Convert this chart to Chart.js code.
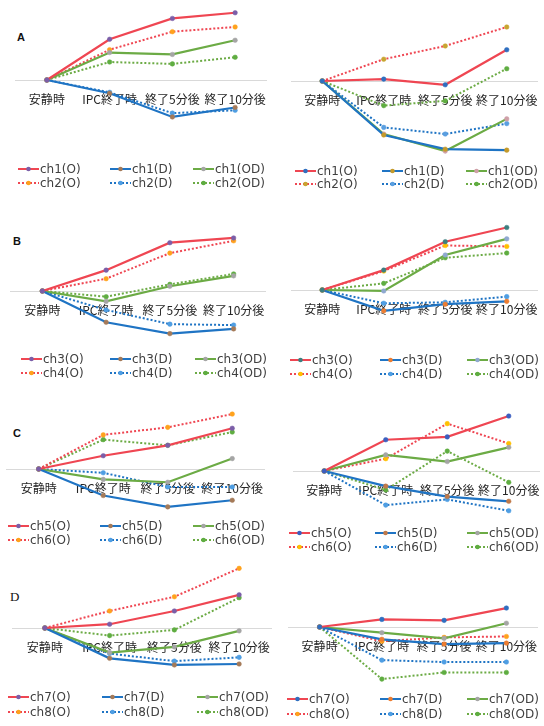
<!DOCTYPE html>
<html><head><meta charset="utf-8">
<script src="https://cdn.jsdelivr.net/npm/chart.js@4/dist/chart.umd.min.js"></script>
<style>
html,body{margin:0;padding:0;background:#fff;}
body{width:544px;height:726px;position:relative;overflow:hidden;}
canvas{position:absolute;}
.lg{position:absolute;height:14px;font:12px 'DejaVu Sans',sans-serif;color:#404040;white-space:nowrap;}
.lg svg{position:absolute;left:0;top:4px;}
.lg span{position:absolute;left:22px;top:0;line-height:14px;}
.ttl{position:absolute;font:bold 11px 'Liberation Sans',Arial,sans-serif;color:#111;line-height:12px;}
</style></head><body>
<script>
// ---- data ----
const categories = ['安静時', 'IPC終了時', '終了5分後', '終了10分後'];

// A (left)
const aL_ch1_O  = [0, 43, 65, 71];
const aL_ch1_D  = [0, -14, -39, -29];
const aL_ch1_OD = [0, 29, 27, 42];
const aL_ch2_O  = [0, 32, 51, 56];
const aL_ch2_D  = [0, -13, -35, -32];
const aL_ch2_OD = [0, 19, 17, 24];
// A (right)
const aR_ch1_O  = [0, 2, -4, 33];
const aR_ch1_D  = [0, -57, -72, -73];
const aR_ch1_OD = [0, -56, -74, -40];
const aR_ch2_O  = [0, 23, 37, 57];
const aR_ch2_D  = [0, -49, -56, -45];
const aR_ch2_OD = [0, -26, -21, 13];
// B (left)
const bL_ch3_O  = [0, 22, 51, 56];
const bL_ch3_D  = [0, -33, -45, -40];
const bL_ch3_OD = [0, -11, 5, 16];
const bL_ch4_O  = [0, 13, 40, 53];
const bL_ch4_D  = [0, -20, -35, -36];
const bL_ch4_OD = [0, -6, 7, 18];
// B (right)
const bR_ch3_O  = [0, 21, 51, 66];
const bR_ch3_D  = [0, -22, -15, -12];
const bR_ch3_OD = [0, -1, 37, 54];
const bR_ch4_O  = [0, 20, 47, 46];
const bR_ch4_D  = [0, -14, -13, -7];
const bR_ch4_OD = [0, 7, 34, 39];
// C (left)
const cL_ch5_O  = [0, 14, 25, 43];
const cL_ch5_D  = [0, -28, -40, -33];
const cL_ch5_OD = [0, -11, -14, 11];
const cL_ch6_O  = [0, 36, 44, 58];
const cL_ch6_D  = [0, -4, -19, -19];
const cL_ch6_OD = [0, 31, 25, 39];
// C (right)
const cR_ch5_O  = [0, 33, 36, 58];
const cR_ch5_D  = [0, -16, -27, -32];
const cR_ch5_OD = [0, 17, 10, 25];
const cR_ch6_O  = [0, 13, 50, 29];
const cR_ch6_D  = [0, -36, -30, -42];
const cR_ch6_OD = [0, -20, 21, -12];
// D (left)
const dL_ch7_O  = [0, 4, 18, 35];
const dL_ch7_D  = [0, -32, -39, -38];
const dL_ch7_OD = [0, -26, -20, -3];
const dL_ch8_O  = [0, 18, 33, 63];
const dL_ch8_D  = [0, -27, -35, -31];
const dL_ch8_OD = [0, -8, -2, 32];
// D (right)
const dR_ch7_O  = [0, 8, 7, 20];
const dR_ch7_D  = [0, -13, -18, -17];
const dR_ch7_OD = [0, -6, -12, 4];
const dR_ch8_O  = [0, -15, -11, -10];
const dR_ch8_D  = [0, -35, -37, -37];
const dR_ch8_OD = [0, -55, -48, -48];

// ---- styles ----
const RED = '#ef4652', BLUE = '#1f74c4', GREEN = '#6cab45';
const MK_L = ['#7b5ea8', '#a57a58', '#a5a5a5', '#ffa21c', '#4f9ee3', '#5fad41'];
const MK_R1 = ['#2f6fc0', '#c49a2a', '#cfa0a8', '#c8a530', '#5a9fe0', '#5fad41'];
const MK_R2 = ['#3c7f80', '#ed7d31', '#8fa9d0', '#ffc000', '#4f9ee3', '#5fad41'];
const MK_R3 = ['#3b5fc0', '#c07a4a', '#a5a5a5', '#ffc000', '#4f9ee3', '#5fad41'];
const MK_R4 = ['#2f6fc0', '#ed7d31', '#a5a5a5', '#ffa21c', '#4f9ee3', '#5fad41'];

const panels = [
  {t:'A', tx:17, ty:31, x:10.5, w:260, base:80, names:['ch1','ch2'], data:[aL_ch1_O,aL_ch1_D,aL_ch1_OD,aL_ch2_O,aL_ch2_D,aL_ch2_OD], mk:MK_L, cols:[18,110,193], rows:[169,183]},
  {x:287, w:255, base:81, names:['ch1','ch2'], data:[aR_ch1_O,aR_ch1_D,aR_ch1_OD,aR_ch2_O,aR_ch2_D,aR_ch2_OD], mk:MK_R1, cols:[295,382,466], rows:[170.5,184]},
  {t:'B', tx:13, ty:235, x:6.3, w:264, base:291, names:['ch3','ch4'], data:[bL_ch3_O,bL_ch3_D,bL_ch3_OD,bL_ch4_O,bL_ch4_D,bL_ch4_OD], mk:MK_L, cols:[21,110,195], rows:[359,373]},
  {x:287, w:255, base:290, names:['ch3','ch4'], data:[bR_ch3_O,bR_ch3_D,bR_ch3_OD,bR_ch4_O,bR_ch4_D,bR_ch4_OD], mk:MK_R2, cols:[290,380,467], rows:[360,374]},
  {t:'C', tx:13, ty:427, x:2, w:267, base:469, names:['ch5','ch6'], data:[cL_ch5_O,cL_ch5_D,cL_ch5_OD,cL_ch6_O,cL_ch6_D,cL_ch6_OD], mk:MK_L, cols:[8,100,193], rows:[526,540]},
  {x:288.5, w:255, base:471, names:['ch5','ch6'], data:[cR_ch5_O,cR_ch5_D,cR_ch5_OD,cR_ch6_O,cR_ch6_D,cR_ch6_OD], mk:MK_R3, cols:[289,375,467], rows:[533,547]},
  {t:'D', serif:true, tx:10, ty:591, x:8.3, w:268, base:628, names:['ch7','ch8'], data:[dL_ch7_O,dL_ch7_D,dL_ch7_OD,dL_ch8_O,dL_ch8_D,dL_ch8_OD], mk:MK_L, cols:[8,102,197], rows:[697,712]},
  {x:284, w:258, base:627, names:['ch7','ch8'], data:[dR_ch7_O,dR_ch7_D,dR_ch7_OD,dR_ch8_O,dR_ch8_D,dR_ch8_OD], mk:MK_R4, cols:[287,380,467], rows:[699,714]}
];

const suffix = ['(O)', '(D)', '(OD)'];
const lineColors = [RED, BLUE, GREEN];
const RANGE = 85;

panels.forEach(p => {
  if (p.t) {
    const d = document.createElement('div');
    d.className = 'ttl';
    d.textContent = p.t;
    d.style.left = p.tx + 'px';
    d.style.top = p.ty + 'px';
    if (p.serif) { d.style.fontFamily = "'Liberation Serif',serif"; d.style.fontWeight = 'normal'; d.style.fontSize = '13px'; }
    document.body.appendChild(d);
  }
  const cv = document.createElement('canvas');
  cv.width = Math.round(p.w); cv.height = RANGE * 2;
  cv.style.left = p.x + 'px';
  cv.style.top = (p.base - RANGE) + 'px';
  document.body.appendChild(cv);

  const datasets = p.data.map((arr, i) => {
    const dotted = i >= 3;
    const col = lineColors[i % 3];
    return {
      label: p.names[dotted ? 1 : 0] + suffix[i % 3],
      data: arr,
      borderColor: col,
      borderWidth: dotted ? 2 : 2.2,
      borderDash: dotted ? [2, 2] : [],
      pointRadius: 2.3,
      pointBorderWidth: 0.5,
      pointBackgroundColor: p.mk[i],
      pointBorderColor: p.mk[i],
      tension: 0,
      fill: false,
      order: dotted ? 1 : 0
    };
  });

  new Chart(cv, {
    type: 'line',
    data: {labels: categories, datasets},
    options: {
      responsive: false, animation: false, events: [],
      layout: {padding: 0},
      plugins: {legend: {display: false}, tooltip: {enabled: false}},
      scales: {
        x: {
          position: {y: 0}, offset: true,
          grid: {display: true, drawOnChartArea: false, drawTicks: true, tickLength: 12, color: 'rgba(0,0,0,0)', tickColor: 'rgba(0,0,0,0)'},
          border: {display: true, color: '#d9d9d9', width: 1},
          ticks: {font: {family: "'Noto Sans CJK JP'", size: 12}, color: '#262626', padding: 0, maxRotation: 0, minRotation: 0, autoSkip: false}
        },
        y: {display: false, min: -RANGE, max: RANGE}
      }
    }
  });

  // legend
  datasets.forEach((ds, i) => {
    const r = Math.floor(i / 3), c = i % 3;
    const item = document.createElement('div');
    item.className = 'lg';
    item.style.left = p.cols[c] + 'px';
    item.style.top = (p.rows[r] - 7) + 'px';
    const dash = ds.borderDash.length ? ' stroke-dasharray="2,2"' : '';
    item.innerHTML = '<svg width="21" height="6"><line x1="0" y1="3" x2="21" y2="3" stroke="' + ds.borderColor + '" stroke-width="2"' + dash + '/><circle cx="10.5" cy="3" r="2.3" fill="' + ds.pointBackgroundColor + '"/></svg><span>' + ds.label + '</span>';
    document.body.appendChild(item);
  });
});
</script>
</body></html>
